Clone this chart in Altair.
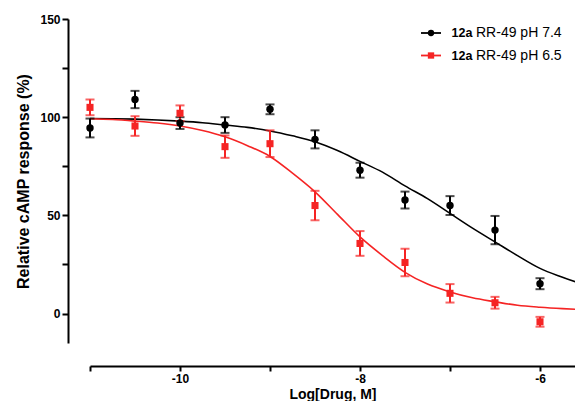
import altair as alt
import pandas as pd

# ---- data ----
log_dose = [-11, -10.5, -10, -9.5, -9, -8.5, -8, -7.5, -7, -6.5, -6, -5.5]

ph74_mean = [94.5, 109, 97, 96, 104, 88.7, 73, 57.8, 55, 42.5, 15.2, 16]
ph74_sem = [4.8, 4.4, 3, 4, 2.5, 4.6, 3.8, 4.3, 4.8, 7.2, 2.8, 4]

ph65_mean = [105, 95.5, 102, 85, 86.5, 55, 35.7, 26, 10.3, 5.5, -4.2, 6]
ph65_sem = [4, 5, 4, 5.7, 6.8, 7.5, 6.3, 7, 4.7, 3, 2.5, 5]

curve_x = [-11, -10.75, -10.5, -10.25, -10, -9.75, -9.5, -9.25, -9, -8.75, -8.5,
           -8.25, -8, -7.75, -7.5, -7.25, -7, -6.75, -6.5, -6.25, -6, -5.75, -5.5]
ph74_curve = [99.3, 99.2, 99, 98.6, 98, 97.2, 96, 94.8, 93, 90.5, 87.5,
              83, 77.5, 72, 65, 58.5, 51, 43.5, 36.5, 29.5, 23, 18.5, 14.5]
ph65_curve = [99.2, 98.8, 98, 97, 95.5, 93.2, 90, 85.5, 80, 71.5, 62,
              50.5, 39, 29.5, 21, 15, 11, 8, 6, 4.2, 3.2, 2.5, 2]

series_names = ["12a RR-49 pH 7.4", "12a RR-49 pH 6.5"]
legend_bold = ["12a", "12a"]
legend_rest = ["RR-49 pH 7.4", "RR-49 pH 6.5"]
colors = ["#000000", "#f52424"]

FONT = "Liberation Sans"

pts = pd.DataFrame({
    "x": log_dose * 2,
    "mean": ph74_mean + ph65_mean,
    "sem": ph74_sem + ph65_sem,
    "series": [series_names[0]] * len(log_dose) + [series_names[1]] * len(log_dose),
})
pts["lo"] = pts["mean"] - pts["sem"]
pts["hi"] = pts["mean"] + pts["sem"]

crv = pd.DataFrame({
    "x": curve_x * 2,
    "y": ph74_curve + ph65_curve,
    "series": [series_names[0]] * len(curve_x) + [series_names[1]] * len(curve_x),
})

xscale = alt.Scale(domain=[-11, -5.6111], nice=False, zero=False)
yscale = alt.Scale(domain=[-15, 150], nice=False, zero=False)
cscale = alt.Scale(domain=series_names, range=colors)

xaxis = alt.Axis(
    values=[-11, -10, -9, -8, -7, -6],
    labelExpr="datum.value % 2 == 0 ? '' + datum.value : ''",
    offset=23, grid=False, domainWidth=2, tickWidth=2, tickSize=5,
    domainColor="black", tickColor="black",
    labelFont=FONT, labelFontSize=12, labelFontWeight="bold", labelColor="black",
    labelPadding=2,
    title="Log[Drug, M]", titleFont=FONT, titleFontSize=14, titleFontWeight="bold",
    titleColor="black", titleBaseline="alphabetic", titleY=32.5,
)
yaxis = alt.Axis(
    values=[0, 25, 50, 75, 100, 125, 150],
    labelExpr="datum.value % 50 == 0 ? datum.label : ''",
    offset=22, grid=False, domainWidth=2, tickWidth=2, tickSize=6,
    domainColor="black", tickColor="black",
    labelFont=FONT, labelFontSize=12, labelFontWeight="bold", labelColor="black",
    labelPadding=2,
    title="Relative cAMP response (%)", titleFont=FONT, titleFontSize=16,
    titleFontWeight="bold", titleColor="black", titlePadding=8,
)

color_enc = alt.Color("series:N", scale=cscale, legend=None)

curves = alt.Chart(crv).mark_line(strokeWidth=1.6, interpolate="monotone").encode(
    x=alt.X("x:Q", scale=xscale, axis=xaxis),
    y=alt.Y("y:Q", scale=yscale, axis=yaxis),
    color=color_enc,
    detail="series:N",
)

bars = alt.Chart(pts).mark_rule(strokeWidth=2).encode(
    x=alt.X("x:Q", scale=xscale),
    y=alt.Y("lo:Q", scale=yscale),
    y2="hi:Q",
    color=color_enc,
)
cap_lo = alt.Chart(pts).mark_tick(orient="horizontal", size=9, thickness=2).encode(
    x=alt.X("x:Q", scale=xscale),
    y=alt.Y("lo:Q", scale=yscale),
    color=color_enc,
)
cap_hi = alt.Chart(pts).mark_tick(orient="horizontal", size=9, thickness=2).encode(
    x=alt.X("x:Q", scale=xscale),
    y=alt.Y("hi:Q", scale=yscale),
    color=color_enc,
)
points = alt.Chart(pts).mark_point(filled=True, opacity=1).encode(
    x=alt.X("x:Q", scale=xscale),
    y=alt.Y("mean:Q", scale=yscale),
    color=color_enc,
    shape=alt.Shape("series:N", scale=alt.Scale(domain=series_names, range=["circle", "square"]), legend=None),
    size=alt.Size("series:N", scale=alt.Scale(domain=series_names, range=[55, 50]), legend=None),
)

# ---- hand-made legend (mixed bold / regular label) ----
leg_layers = []
leg_y = [14, 36.5]
shapes = ["circle", "square"]
for i in range(2):
    d = pd.DataFrame({"b": [legend_bold[i]], "r": [legend_rest[i]]})
    base = alt.Chart(d)
    leg_layers.append(base.mark_rule(color=colors[i], strokeWidth=1.8).encode(
        x=alt.value(331), x2=alt.value(351), y=alt.value(leg_y[i])))
    leg_layers.append(base.mark_point(filled=True, opacity=1, color=colors[i], shape=shapes[i], size=40).encode(
        x=alt.value(341), y=alt.value(leg_y[i])))
    leg_layers.append(base.mark_text(font=FONT, fontSize=12.5, fontWeight="bold", align="left",
                                     baseline="middle", color="black").encode(
        x=alt.value(361.5), y=alt.value(leg_y[i]), text="b:N"))
    leg_layers.append(base.mark_text(font=FONT, fontSize=14, align="left",
                                     baseline="middle", color="black").encode(
        x=alt.value(386), y=alt.value(leg_y[i]), text="r:N"))

chart = alt.layer(curves, bars, cap_lo, cap_hi, points, *leg_layers).properties(
    width=485, height=324,
    autosize=alt.AutoSizeParams(type="none"),
    padding={"left": 82, "top": 11, "right": 0, "bottom": 58},
    background="white",
).configure_view(stroke=None)

chart.save("out.html", embed_options={"renderer": "svg", "actions": False})
